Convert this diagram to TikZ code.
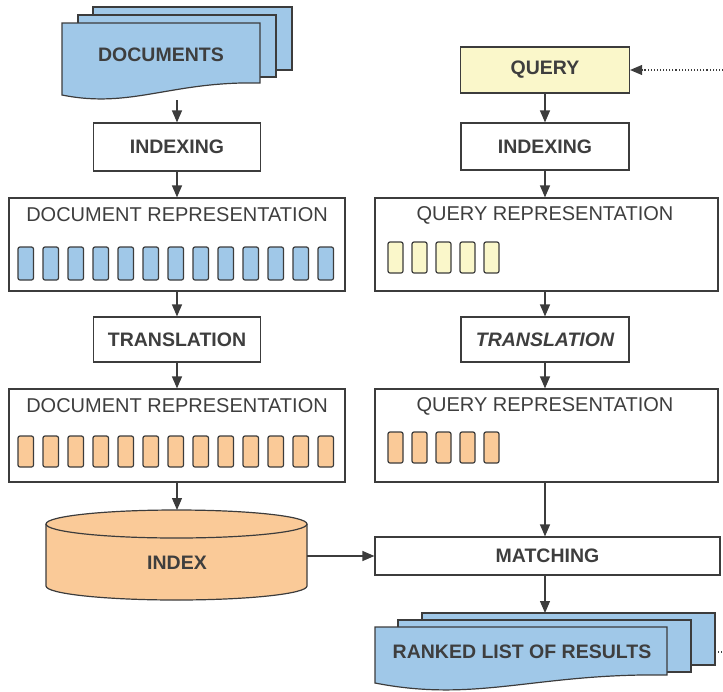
\documentclass[tikz,border=0pt]{standalone}
\usepackage{fontspec}
\setmainfont{Liberation Sans}
\usetikzlibrary{arrows.meta}
\definecolor{bluef}{RGB}{160,200,232}
\definecolor{orangef}{RGB}{250,202,152}
\definecolor{yellowf}{RGB}{250,247,202}
\definecolor{edgec}{RGB}{60,60,60}
\definecolor{txtc}{RGB}{62,62,62}
\newcommand{\docwave}[7]{% fill, x0, y0, x1, yR, yL, dip
  \draw[docline,fill=#1] (#2,#3) -- (#4,#3) -- (#4,#5)
    .. controls ({#4-0.45*(#4-#2)},{#5-2}) and ({#2+0.35*(#4-#2)},{#6+#7}) .. (#2,#6) -- cycle;}
\begin{document}
\begin{tikzpicture}[x=1pt,y=-1pt,
  docline/.style={draw=edgec,line width=1.2pt},
  box/.style={draw=edgec,line width=1.2pt,fill=white,inner sep=0pt,
    font=\fontsize{19.5}{22}\selectfont\bfseries,text=txtc},
  repbox/.style={draw=edgec,line width=1.2pt,fill=white,inner sep=0pt},
  reptitle/.style={inner sep=0pt,font=\fontsize{20}{22}\selectfont,text=txtc},
  lbl/.style={inner sep=0pt,font=\fontsize{19.5}{22}\selectfont\bfseries,text=txtc},
  cell/.style={draw=edgec,line width=1.2pt,rounded corners=2pt},
  arr/.style={draw=edgec,line width=1.2pt,-{Triangle[length=12pt,width=10pt]}},
  dotarr/.style={draw=edgec,line width=1.1pt,dotted,-{Triangle[length=12pt,width=10pt]}}
]
\useasboundingbox (0,0) rectangle (723,691);

% ---------- DOCUMENTS stack ----------
\draw[docline,fill=bluef] (93,7) rectangle (292,70);
\draw[docline,fill=bluef] (78,15) rectangle (276,77);
\docwave{bluef}{62}{23}{260}{83}{95}{14}
\node[lbl] (docs) at (161,55) {DOCUMENTS};
\coordinate (docsbot) at (177,100);

% ---------- left column ----------
\node[box,minimum width=167pt,minimum height=48pt] (idxL) at (177,147) {INDEXING};
\node[repbox,minimum width=336pt,minimum height=93pt] (drepA) at (177,244.5) {};
\node[reptitle] (drepAt) at (177,215) {DOCUMENT REPRESENTATION};
\foreach \i in {0,...,12}{
  \draw[cell,fill=bluef] ({18+25*\i},247) rectangle ({33.5+25*\i},280);
}
\node[box,minimum width=167pt,minimum height=45pt] (trL) at (177,339.5) {TRANSLATION};
\node[repbox,minimum width=336pt,minimum height=93pt] (drepB) at (177,435.5) {};
\node[reptitle] (drepBt) at (177,406) {DOCUMENT REPRESENTATION};
\foreach \i in {0,...,12}{
  \draw[cell,fill=orangef] ({18+25*\i},436) rectangle ({33.5+25*\i},467);
}

% ---------- INDEX cylinder ----------
\draw[docline,fill=orangef] (46,524) -- (46,586) arc (180:360:130.5pt and 14pt)
  -- (307,524) arc (0:180:130.5pt and 14pt) -- cycle;
\draw[docline] (46,524) arc (180:360:130.5pt and 14pt);
\node[lbl] (index) at (177,563) {INDEX};
\coordinate (idxtop) at (177,510);
\coordinate (idxright) at (307,556);

% ---------- right column ----------
\node[box,fill=yellowf,minimum width=169pt,minimum height=46pt] (query) at (545,70) {QUERY};
\coordinate (qin) at (723,70);
\node[box,minimum width=168pt,minimum height=47pt] (idxR) at (545,146.5) {INDEXING};
\node[repbox,minimum width=343pt,minimum height=93pt] (qrepA) at (546.5,244.5) {};
\node[reptitle] (qrepAt) at (545,215) {QUERY REPRESENTATION};
\foreach \i in {0,...,4}{
  \draw[cell,fill=yellowf] ({388+24*\i},242) rectangle ({403+24*\i},273);
}
\node[box,minimum width=168pt,minimum height=45pt,font=\fontsize{19.5}{22}\selectfont\bfseries\itshape] (trR) at (545,339.5) {TRANSLATION};
\node[repbox,minimum width=343pt,minimum height=93pt] (qrepB) at (546.5,435.5) {};
\node[reptitle] (qrepBt) at (545,406) {QUERY REPRESENTATION};
\foreach \i in {0,...,4}{
  \draw[cell,fill=orangef] ({388+24*\i},432) rectangle ({403+24*\i},463);
}
\node[box,minimum width=345pt,minimum height=38pt] (match) at (547.5,556) {MATCHING};

% ---------- RANKED LIST stack ----------
\draw[docline,fill=bluef] (422,613) rectangle (715,665);
\draw[docline,fill=bluef] (398,620) rectangle (691,672);
\docwave{bluef}{375}{627}{667}{675}{683}{20}
\node[lbl] (ranked) at (522,652) {RANKED LIST OF RESULTS};
\coordinate (rktop) at (545,613);
\coordinate (rkright) at (715,652);
\coordinate (rkout) at (723,652);

% ---------- connectors ----------
\draw[arr] (docsbot) -- (idxL.north);
\draw[arr] (idxL.south) -- (drepA.north -| idxL.south);
\draw[arr] (drepA.south -| trL.north) -- (trL.north);
\draw[arr] (trL.south) -- (drepB.north -| trL.south);
\draw[arr] (drepB.south -| idxtop) -- (idxtop);
\draw[arr] (idxright) -- (match.west |- idxright);
\draw[dotarr] (qin) -- (query.east);
\draw[arr] (query.south) -- (idxR.north);
\draw[arr] (idxR.south) -- (idxR.south |- qrepA.north);
\draw[arr] (idxR.south |- qrepA.south) -- (trR.north);
\draw[arr] (trR.south) -- (trR.south |- qrepB.north);
\draw[arr] (trR.south |- qrepB.south) -- (trR.south |- match.north);
\draw[arr] (trR.south |- match.south) -- (rktop);
\draw[draw=edgec,line width=1.1pt,dotted] (rkright) -- (rkout);
\end{tikzpicture}
\end{document}
